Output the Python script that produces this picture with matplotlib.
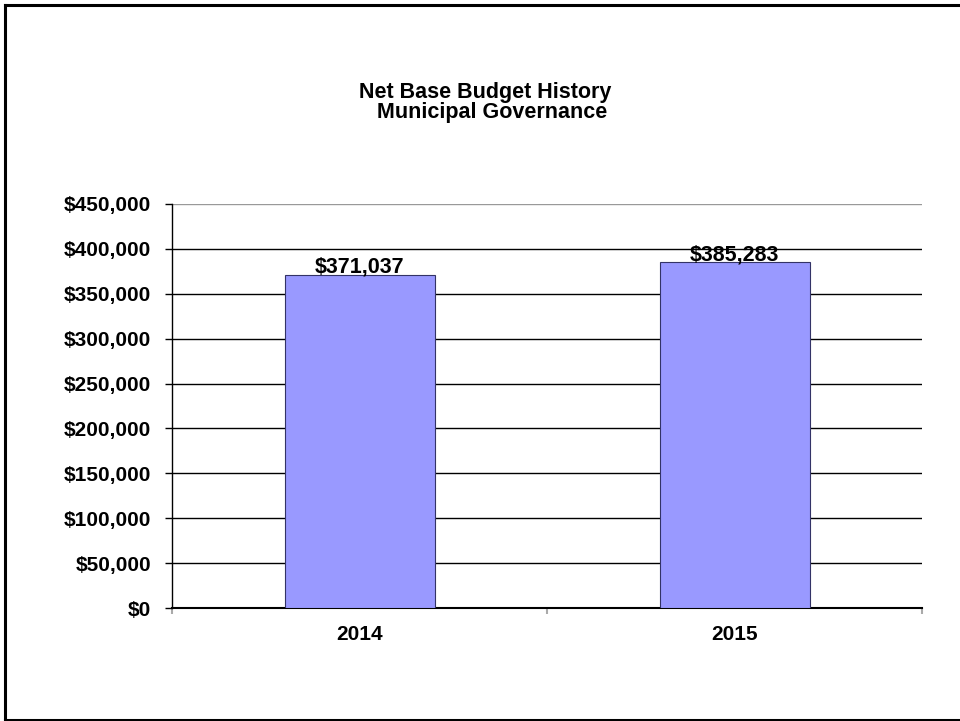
import numpy as np
import matplotlib
matplotlib.use("Agg")
import matplotlib.pyplot as plt
from matplotlib.lines import Line2D
from matplotlib.ticker import FuncFormatter, MultipleLocator, FixedLocator

years = ["2014", "2015"]
budget = [371037, 385283]
title_lines = ["Net Base Budget History", "Municipal Governance"]

plt.rcParams['font.family'] = ['Liberation Sans', 'DejaVu Sans']
plt.rcParams['font.weight'] = 'bold'

W, H = 960, 721
PX = 72 / 100  # points per pixel at dpi 100
FS = 15

fig = plt.figure(figsize=(W / 100, H / 100), dpi=100)

# frame round the page (left, top and bottom edges only)
for xs, ys in [([4.5 / W, 4.5 / W], [1 - 4.5 / H, 1 - 719.5 / H]),
               ([4.5 / W, 1.0], [1 - 4.5 / H, 1 - 4.5 / H]),
               ([4.5 / W, 1.0], [1 - 719.5 / H, 1 - 719.5 / H])]:
    fig.add_artist(Line2D(xs, ys, transform=fig.transFigure, color='black', lw=2.2))

ax = fig.add_axes([172 / W, 1 - 608 / H, (922 - 172) / W, (608 - 204) / H])

x = np.arange(len(years))
bars = ax.bar(x, budget, width=0.4, color='#9999FF', edgecolor='#333366', linewidth=0.8, zorder=3)

ax.set_xlim(-0.5, len(years) - 0.5)
ax.set_ylim(0, 450000)

ax.yaxis.set_major_locator(MultipleLocator(50000))
ax.yaxis.set_major_formatter(FuncFormatter(lambda v, p: "${:,.0f}".format(v)))
for v in np.arange(50000, 450001, 50000):
    ax.axhline(v, color='#999999' if v == 450000 else 'black', lw=1.0, zorder=1)

ax.xaxis.set_major_locator(FixedLocator([-0.5, 0.5, 1.5]))
ax.xaxis.set_minor_locator(FixedLocator(x))
ax.set_xticklabels([], minor=False)
ax.set_xticklabels(years, minor=True)
ax.tick_params(axis='x', which='major', length=6 * PX, width=1.5, color='#aaaaaa', direction='out')
ax.tick_params(axis='x', which='minor', length=0, pad=17 * PX, labelsize=FS)
ax.tick_params(axis='y', length=7 * PX, width=1, color='black', pad=14 * PX, labelsize=FS)

for s in ['top', 'right']:
    ax.spines[s].set_visible(False)
ax.spines['left'].set_linewidth(1.0)
ax.spines['bottom'].set_linewidth(1.5)

for b, v in zip(bars, budget):
    ax.annotate("${:,.0f}".format(v), (b.get_x() + b.get_width() / 2, v),
                xytext=(0, 2 * PX), textcoords='offset points', ha='center', va='baseline',
                fontsize=15.5, fontweight='bold', zorder=4)

fig.text(485 / W, 1 - 98 / H, title_lines[0], ha='center', va='baseline', fontsize=15.5, fontweight='bold')
fig.text(492 / W, 1 - 118 / H, title_lines[1], ha='center', va='baseline', fontsize=15.5, fontweight='bold')

fig.savefig("out.png", dpi=100)
